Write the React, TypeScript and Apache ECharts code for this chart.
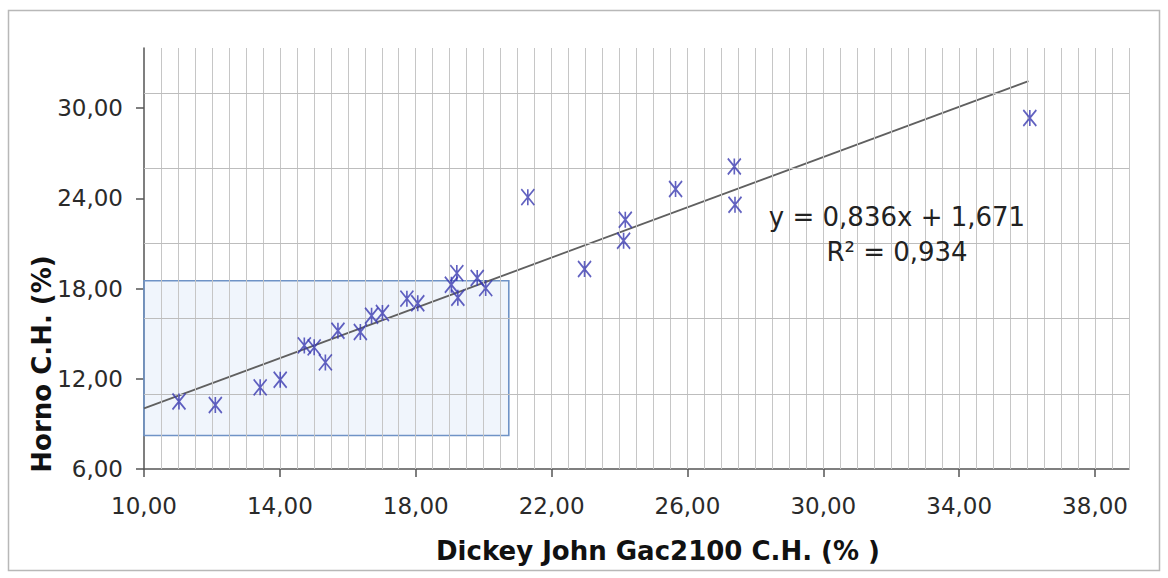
import React, { useEffect, useRef } from "react";
import * as echarts from "echarts";

// Measured points: Dickey John Gac2100 C.H. (%) vs Horno C.H. (%)
const dickeyX = [
  11.03, 12.1, 13.42, 14.01, 14.72, 15.01, 15.34, 15.71, 16.37, 16.7, 17.02, 17.74, 18.06,
  19.05, 19.21, 19.24, 19.81, 20.06, 21.3, 22.97, 24.12, 24.17, 25.65, 27.38, 27.4, 36.08,
];
const hornoY = [
  10.49, 10.26, 11.43, 11.94, 14.22, 14.09, 13.09, 15.2, 15.11, 16.19, 16.37, 17.33, 17.02,
  18.25, 19.03, 17.39, 18.7, 18.03, 24.08, 19.3, 21.18, 22.58, 24.62, 26.12, 23.57, 29.34,
];

// Linear trend line end points (y = 0,836x + 1,671)
const trendX = [10, 36.04];
const trendY = [10.03, 31.8];

// Highlight rectangle extents
const boxX = [10, 20.74];
const boxY = [8.23, 18.52];

// Axis ranges, ticks and grid lines
const xRange = [10, 39];
const yRange = [6, 34];
const xTickValues = [10, 14, 18, 22, 26, 30, 34, 38];
const yTickValues = [6, 12, 18, 24, 30];
const yGridValues = [11, 16, 21, 26, 31];
const xGridStep = 0.5;

const equationText = "y = 0,836x + 1,671";
const r2Text = "R² = 0,934";

const fmt = (v: number) => v.toFixed(2).replace(".", ",");
const FONT = '"DejaVu Sans", "Liberation Sans", Arial, sans-serif';
const asterisk = "path://M0,0L12,14M12,0L0,14M6,0L6,14";

export default function App() {
  const ref = useRef<HTMLDivElement>(null);

  useEffect(() => {
    document.body.style.margin = "0";
    const chart = echarts.init(ref.current!, null, { renderer: "svg" });

    const xGridValues: number[] = [];
    for (let v = xRange[0] + xGridStep; v <= xRange[1] + 1e-9; v += xGridStep) {
      xGridValues.push(Math.round(v * 100) / 100);
    }

    const option: any = {
      animation: false,
      backgroundColor: "#ffffff",
      grid: { left: 144, top: 48, width: 985, height: 421, containLabel: false },
      xAxis: {
        type: "value",
        min: xRange[0],
        max: xRange[1],
        interval: 4,
        axisLine: { show: true, onZero: false, lineStyle: { color: "#555555", width: 1.5 } },
        axisTick: {
          show: true,
          length: 8,
          customValues: xTickValues,
          lineStyle: { color: "#555555", width: 1.5 },
        },
        axisLabel: {
          show: true,
          customValues: xTickValues,
          formatter: (v: number) => (xTickValues.indexOf(v) >= 0 ? fmt(v) : ""),
          margin: 25,
          fontSize: 23,
          fontFamily: FONT,
          color: "#2a2a2a",
        },
        splitLine: { show: false },
      },
      yAxis: {
        type: "value",
        min: yRange[0],
        max: yRange[1],
        interval: 6,
        axisLine: { show: true, onZero: false, lineStyle: { color: "#555555", width: 1.5 } },
        axisTick: {
          show: true,
          length: 8,
          customValues: yTickValues,
          lineStyle: { color: "#555555", width: 1.5 },
        },
        axisLabel: {
          show: true,
          customValues: yTickValues,
          formatter: (v: number) => (yTickValues.indexOf(v) >= 0 ? fmt(v) : ""),
          margin: 21,
          fontSize: 23,
          fontFamily: FONT,
          color: "#2a2a2a",
        },
        splitLine: { show: false },
      },
      graphic: [
        {
          type: "rect",
          silent: true,
          shape: { x: 8.5, y: 10.5, width: 1151, height: 560 },
          style: { fill: "none", stroke: "#b8b8b8", lineWidth: 1.5 },
          z: 0,
        },
        {
          type: "text",
          x: 897,
          y: 217,
          z: 10,
          style: {
            text: equationText,
            align: "center",
            verticalAlign: "middle",
            font: `26px ${FONT}`,
            fill: "#222222",
          },
        },
        {
          type: "text",
          x: 897,
          y: 252,
          z: 10,
          style: {
            text: r2Text,
            align: "center",
            verticalAlign: "middle",
            font: `26px ${FONT}`,
            fill: "#222222",
          },
        },
        {
          type: "text",
          x: 658,
          y: 551,
          z: 10,
          style: {
            text: "Dickey John Gac2100 C.H. (% )",
            align: "center",
            verticalAlign: "middle",
            font: `bold 26px ${FONT}`,
            fill: "#111111",
          },
        },
        {
          type: "text",
          x: 42,
          y: 364,
          rotation: Math.PI / 2,
          z: 10,
          style: {
            text: "Horno C.H. (%)",
            align: "center",
            verticalAlign: "middle",
            font: `bold 26px ${FONT}`,
            fill: "#111111",
          },
        },
      ],
      series: [
        {
          type: "line",
          name: "Rejilla",
          data: [],
          silent: true,
          z: 1,
          markLine: {
            silent: true,
            symbol: "none",
            label: { show: false },
            data: [
              ...xGridValues.map((v) => ({
                xAxis: v,
                lineStyle: { color: "#c6c6c6", width: 1, type: "solid" },
              })),
              ...yGridValues.map((v) => ({
                yAxis: v,
                lineStyle: { color: "#bdbdbd", width: 1.2, type: "solid" },
              })),
            ],
          },
        },
        {
          type: "line",
          name: "Tendencia",
          data: trendX.map((x, i) => [x, trendY[i]]),
          symbol: "none",
          showSymbol: false,
          silent: true,
          lineStyle: { color: "#606060", width: 1.8 },
          z: 3,
          markArea: {
            silent: true,
            itemStyle: {
              color: "rgba(205, 222, 245, 0.3)",
              borderColor: "#6f93c6",
              borderWidth: 1.6,
            },
            data: [[{ coord: [boxX[0], boxY[1]] }, { coord: [boxX[1], boxY[0]] }]],
          },
        },
        {
          type: "scatter",
          name: "Horno",
          data: dickeyX.map((x, i) => [x, hornoY[i]]),
          symbol: asterisk,
          symbolSize: [13, 16],
          itemStyle: { color: "rgba(0,0,0,0)", borderColor: "#3a3ab0", borderWidth: 1.8 },
          z: 5,
        },
      ],
    };
    chart.setOption(option);
    return () => chart.dispose();
  }, []);

  return <div ref={ref} style={{ width: 1168, height: 578, background: "#fff" }} />;
}
